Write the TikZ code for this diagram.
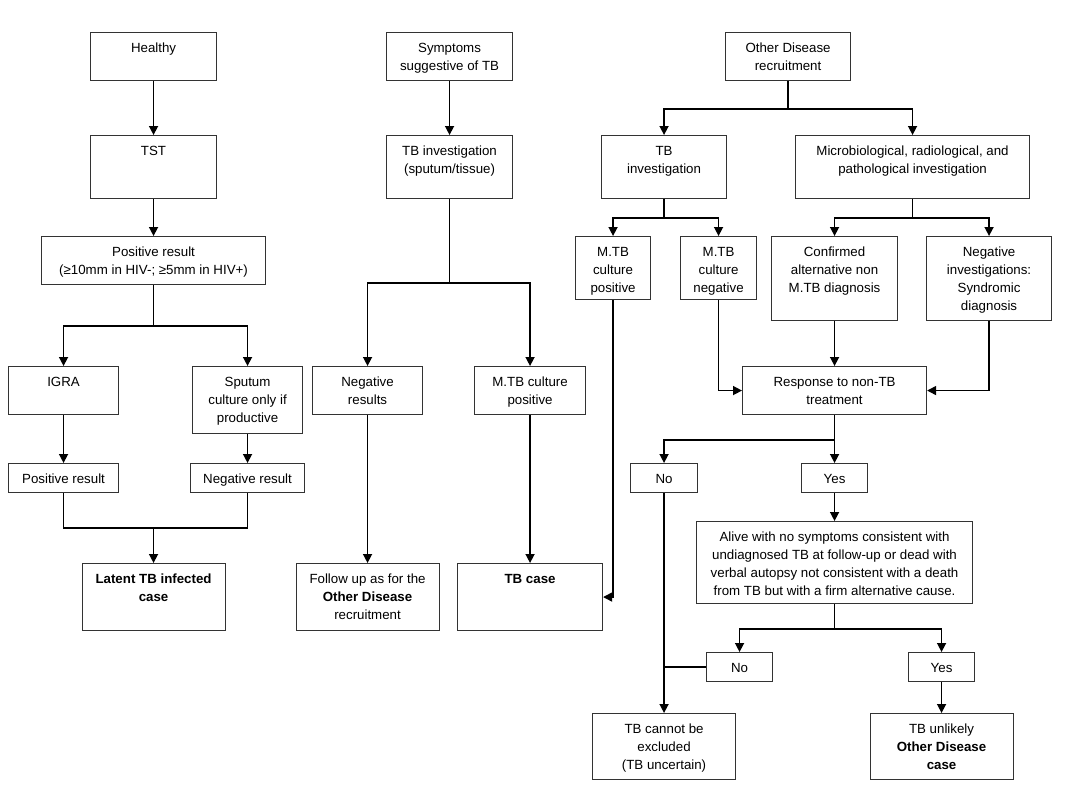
\documentclass[tikz,border=0pt]{standalone}
\usepackage{fontspec}
\setmainfont{Liberation Sans}
\usetikzlibrary{arrows.meta}
\newcommand{\bt}[3]{\parbox[t][#2][t]{#1}{\centering\vspace*{7pt}\strut #3}}
\begin{document}
\begin{tikzpicture}[x=1pt,y=-1pt,
  bx/.style={draw=black!80, line width=1.1pt, inner sep=0pt, anchor=north west, font=\fontsize{13.3}{18}\selectfont},
  arr/.style={line width=1.5pt, -{Triangle[length=9pt,width=9pt]}},
  ln/.style={line width=1.5pt}]
\useasboundingbox (0,0) rectangle (1067,800);
% column 1
\node[bx] (healthy) at (90,32) {\bt{126pt}{48pt}{Healthy}};
\node[bx] (tst) at (90,135) {\bt{126pt}{63pt}{TST}};
\node[bx] (pos) at (41,236) {\bt{224pt}{48pt}{Positive result\\(≥10mm in HIV-; ≥5mm in HIV+)}};
\node[bx] (igra) at (8,366) {\bt{110pt}{48pt}{IGRA}};
\node[bx] (sput) at (192,366) {\bt{110pt}{67pt}{Sputum\\culture only if\\productive}};
\node[bx] (posr) at (8,463) {\bt{110pt}{29pt}{Positive result}};
\node[bx] (negr) at (190,463) {\bt{114pt}{29pt}{Negative result}};
\node[bx] (latent) at (81.5,563) {\bt{143pt}{67pt}{\textbf{Latent TB infected}\\\textbf{case}}};
% column 2
\node[bx] (sym) at (386,32) {\bt{126pt}{48pt}{Symptoms\\suggestive of TB}};
\node[bx] (tbinv) at (386,135) {\bt{126pt}{63pt}{TB investigation\\(sputum/tissue)}};
\node[bx] (negres) at (312,366) {\bt{110pt}{48pt}{Negative\\results}};
\node[bx] (mtbpos1) at (474,366) {\bt{111pt}{48pt}{M.TB culture\\positive}};
\node[bx] (follow) at (295.5,563) {\bt{143pt}{67pt}{Follow up as for the\\\textbf{Other Disease}\\recruitment}};
\node[bx] (tbcase) at (457,563) {\bt{145pt}{67pt}{\textbf{TB case}}};
% column 3
\node[bx] (other) at (725,32) {\bt{125pt}{48pt}{Other Disease\\recruitment}};
\node[bx] (tbinv2) at (601,135) {\bt{125pt}{63pt}{TB\\investigation}};
\node[bx] (micro) at (795,135) {\bt{234pt}{63pt}{Microbiological, radiological, and\\pathological investigation}};
\node[bx] (mtbpos2) at (575,236) {\bt{75pt}{63pt}{M.TB\\culture\\positive}};
\node[bx] (mtbneg) at (680,236) {\bt{76pt}{63pt}{M.TB\\culture\\negative}};
\node[bx] (conf) at (771,236) {\bt{126pt}{84pt}{Confirmed\\alternative non\\M.TB diagnosis}};
\node[bx] (neginv) at (926,236) {\bt{125pt}{84pt}{Negative\\investigations:\\Syndromic\\diagnosis}};
\node[bx] (resp) at (742,366) {\bt{184pt}{48pt}{Response to non-TB\\treatment}};
\node[bx] (no1) at (630,463) {\bt{67pt}{29pt}{No}};
\node[bx] (yes1) at (801,463) {\bt{66pt}{29pt}{Yes}};
\node[bx] (alive) at (696,521) {\bt{276pt}{82pt}{Alive with no symptoms consistent with\\undiagnosed TB at follow-up or dead with\\verbal autopsy not consistent with a death\\from TB but with a firm alternative cause.}};
\node[bx] (no2) at (706,652) {\bt{66pt}{29pt}{No}};
\node[bx] (yes2) at (908,652) {\bt{66pt}{29pt}{Yes}};
\node[bx] (cannot) at (592,713) {\bt{143pt}{66pt}{TB cannot be\\excluded\\(TB uncertain)}};
\node[bx] (unlikely) at (869.5,713) {\bt{143pt}{66pt}{TB unlikely\\\textbf{Other Disease}\\\textbf{case}}};
% connectors column 1
\draw[arr] (healthy.south) -- (tst.north);
\draw[arr] (tst.south) -- (pos.north);
\draw[arr] (pos.south) -- ++(0,41) -| (igra.north);
\draw[arr] (pos.south) -- ++(0,41) -| (sput.north);
\draw[arr] (igra.south) -- (posr.north);
\draw[arr] (sput.south) -- (negr.north);
\coordinate (mj) at ([yshift=35pt]latent.north);
\draw[ln] (posr.south) |- (mj) -| (negr.south);
\draw[arr] (mj) -- (latent.north);
% column 2
\draw[arr] (sym.south) -- (tbinv.north);
\draw[arr] (tbinv.south) -- ++(0,84) -| (negres.north);
\draw[arr] (tbinv.south) -- ++(0,84) -| (mtbpos1.north);
\draw[arr] (negres.south) -- (follow.north);
\draw[arr] (mtbpos1.south) -- (tbcase.north);
% column 3
\draw[arr] (other.south) -- ++(0,28) -| (tbinv2.north);
\draw[arr] (other.south) -- ++(0,28) -| (micro.north);
\draw[arr] (tbinv2.south) -- ++(0,19) -| (mtbpos2.north);
\draw[arr] (tbinv2.south) -- ++(0,19) -| (mtbneg.north);
\draw[arr] (micro.south) -- ++(0,19) -| (conf.north);
\draw[arr] (micro.south) -- ++(0,19) -| (neginv.north);
\draw[arr] (mtbpos2.south) |- (tbcase.east);
\draw[arr] (mtbneg.south) |- (resp.west);
\draw[arr] (neginv.south) |- (resp.east);
\draw[arr] (conf.south) -- (resp.north);
\draw[arr] (resp.south) -- ++(0,25) -| (no1.north);
\draw[arr] (resp.south) -- (yes1.north);
\draw[arr] (yes1.south) -- (alive.north);
\draw[arr] (alive.south) -- ++(0,25) -| (no2.north);
\draw[arr] (alive.south) -- ++(0,25) -| (yes2.north);
\draw[arr] (no1.south) -- (cannot.north);
\draw[ln] (no2.west) -- (no1.south |- no2.west);
\draw[arr] (yes2.south) -- (unlikely.north);
\end{tikzpicture}
\end{document}
